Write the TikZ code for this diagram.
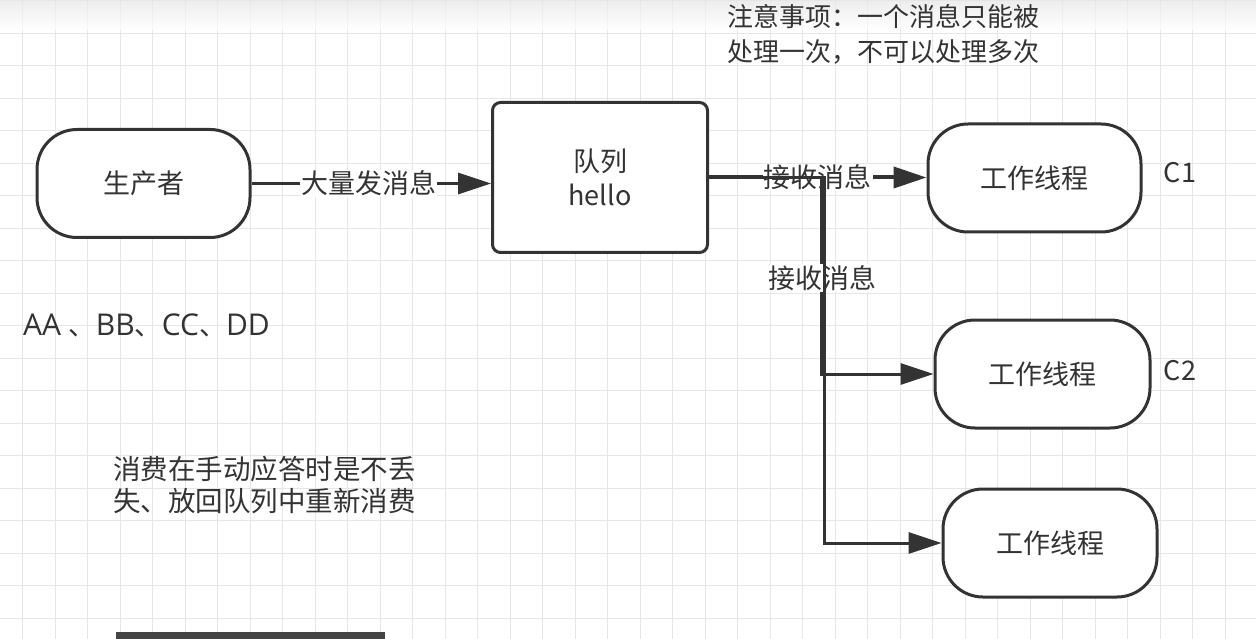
\documentclass[tikz,border=0pt]{standalone}
\usepackage{fontspec}
\setmainfont{Noto Sans CJK SC}
\newfontfamily\latinfont{Open Sans}
\usetikzlibrary{arrows.meta}
\definecolor{ink}{HTML}{333333}
\definecolor{gridc}{HTML}{E6E6E6}
\definecolor{barc}{HTML}{444444}
\tikzset{
  term/.style={draw=ink, line width=3pt, rounded corners=40pt, fill=white, text=ink,
    font=\fontsize{27}{32}\selectfont, minimum height=108pt, inner sep=0pt},
  queuebox/.style={draw=ink, line width=3pt, rounded corners=8pt, fill=white, text=ink,
    font=\fontsize{27}{34}\selectfont, align=center, minimum width=215pt, minimum height=150pt, inner sep=0pt},
  conn/.style={draw=ink, line width=3pt, -{Triangle[length=33pt,width=21pt]}},
  lbl/.style={fill=white, text=ink, font=\fontsize{27}{32}\selectfont, inner sep=1pt},
  txt/.style={text=ink, font=\fontsize{27}{32}\selectfont, inner sep=0pt},
}
\newcommand{\lat}[1]{{\latinfont\fontsize{30}{32}\selectfont #1}}
\begin{document}
\begin{tikzpicture}[x=1pt,y=-1pt]
\useasboundingbox (0,0) rectangle (1256,639);
\fill[white] (0,0) rectangle (1256,639);
\foreach \i in {0,...,38} {\draw[gridc, line width=1pt] ({22.7+32.5*\i},0) -- ({22.7+32.5*\i},639);}
\foreach \i in {0,...,19} {\draw[gridc, line width=1pt] (0,{0.8+32.5*\i}) -- (1256,{0.8+32.5*\i});}
\shade[top color=black!10, bottom color=white, opacity=0.7] (0,0) rectangle (1256,30);

% nodes
\node[term, minimum width=213pt] (prod) at (143.5,183.5) {生产者};
\node[queuebox] (queue) at (600,177.5) {队列\\hello};
\node[term, minimum width=213pt] (c1) at (1034.5,178) {工作线程};
\node[term, minimum width=215pt] (c2) at (1042.5,374) {工作线程};
\node[term, minimum width=214pt] (c3) at (1050,543) {工作线程};

\coordinate (j2) at (821.5,177.5);
\coordinate (j3) at (824.5,177.5);

% connectors
\draw[conn] (prod.east) -- node[lbl, pos=0.49] {大量发消息} (prod.east -| queue.west);
\draw[conn, line width=4pt] (queue.east) -- node[lbl, pos=0.5] (l1) {接收消息} (queue.east -| c1.west);
\draw[conn] (queue.east) -- (j2) |- (c2.west);
\node[lbl] (l2) at (822,278) {接收消息};
\draw[conn] (queue.east) -- (j3) |- (c3.west);

% free texts
\node[txt] (n1) at (1180,173) {C1};
\node[txt] (n2) at (1180,371) {C2};
\node[txt, anchor=west] (aa) at (23,325) {\lat{AA }、\lat{BB}、\lat{CC}、\lat{DD}};
\node[txt, anchor=north west, align=left, font=\fontsize{27.5}{31.6}\selectfont] (note2) at (113,456) {消费在手动应答时是不丢\\失、放回队列中重新消费};
\node[txt, anchor=north west, align=left, font=\fontsize{26}{35}\selectfont] (note1) at (727,4) {注意事项：一个消息只能被\\处理一次，不可以处理多次};

\fill[barc] (116,632) rectangle (385,640);
\end{tikzpicture}
\end{document}
